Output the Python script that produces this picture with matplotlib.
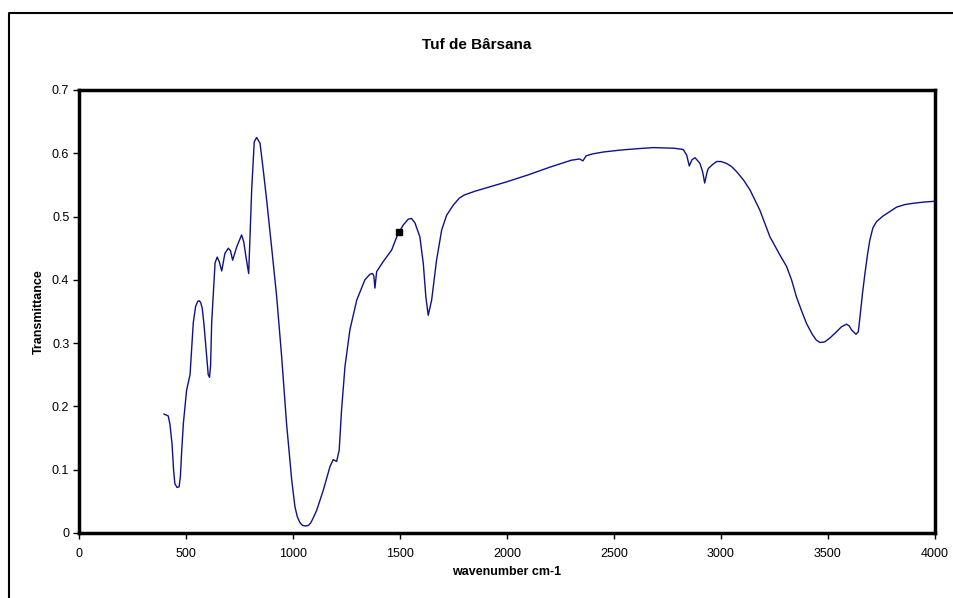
import matplotlib.pyplot as plt
from matplotlib.lines import Line2D

plt.rcParams['font.family'] = ['Liberation Sans', 'DejaVu Sans']

# spectrum
wavenumber = [397, 417, 425, 435, 442, 448, 458, 468, 474, 480, 488, 503, 519, 534, 545,
              555, 562, 569, 576, 584, 594, 604, 610, 615, 620, 636, 646, 656, 667, 682,
              698, 708, 718, 737, 760, 770, 780, 793, 807, 819, 830, 846, 861, 877, 900,
              924, 947, 970, 994, 1009, 1020, 1033, 1045, 1059, 1072, 1083, 1095, 1111,
              1142, 1173, 1188, 1204, 1216, 1227, 1243, 1266, 1298, 1336, 1360, 1372,
              1378, 1383, 1391, 1422, 1461, 1485, 1497, 1516, 1539, 1554, 1570, 1593,
              1609, 1621, 1632, 1648, 1671, 1695, 1718, 1749, 1777, 1800, 1850, 1900,
              2000, 2100, 2200, 2300, 2340, 2355, 2370, 2400, 2450, 2528, 2600, 2684,
              2780, 2824, 2840, 2852, 2865, 2879, 2902, 2915, 2924, 2935, 2941, 2960,
              2980, 3000, 3026, 3050, 3073, 3105, 3136, 3182, 3229, 3276, 3307, 3330,
              3353, 3378, 3400, 3425, 3445, 3463, 3485, 3509, 3540, 3564, 3587, 3600,
              3610, 3631, 3642, 3650, 3662, 3673, 3685, 3696, 3710, 3727, 3758, 3790,
              3821, 3860, 3899, 3950, 3992, 4000]
transmittance = [0.188, 0.185, 0.172, 0.140, 0.100, 0.078, 0.072, 0.073, 0.090, 0.130,
                 0.174, 0.226, 0.250, 0.332, 0.358, 0.366, 0.367, 0.364, 0.355, 0.330,
                 0.290, 0.250, 0.246, 0.265, 0.332, 0.427, 0.436, 0.428, 0.414, 0.442,
                 0.450, 0.446, 0.431, 0.452, 0.471, 0.460, 0.437, 0.410, 0.542, 0.618,
                 0.625, 0.616, 0.574, 0.526, 0.452, 0.373, 0.279, 0.173, 0.084, 0.042,
                 0.026, 0.016, 0.012, 0.011, 0.012, 0.016, 0.024, 0.036, 0.068, 0.105,
                 0.116, 0.113, 0.131, 0.194, 0.263, 0.321, 0.368, 0.400, 0.409, 0.410,
                 0.406, 0.387, 0.413, 0.429, 0.447, 0.468, 0.476, 0.487, 0.496, 0.497,
                 0.490, 0.468, 0.426, 0.373, 0.344, 0.368, 0.431, 0.479, 0.502, 0.518,
                 0.529, 0.534, 0.540, 0.545, 0.555, 0.566, 0.578, 0.589, 0.591, 0.588,
                 0.596, 0.599, 0.602, 0.605, 0.607, 0.609, 0.608, 0.606, 0.597, 0.580,
                 0.590, 0.593, 0.584, 0.570, 0.553, 0.570, 0.576, 0.582, 0.587, 0.587,
                 0.584, 0.579, 0.571, 0.558, 0.542, 0.510, 0.468, 0.439, 0.421, 0.400,
                 0.373, 0.350, 0.331, 0.315, 0.305, 0.301, 0.302, 0.308, 0.318, 0.326,
                 0.330, 0.327, 0.321, 0.314, 0.318, 0.342, 0.380, 0.410, 0.440, 0.463,
                 0.482, 0.492, 0.501, 0.508, 0.515, 0.519, 0.521, 0.523, 0.524, 0.524]

marker_x = [1497]
marker_y = [0.476]

xticks = [0, 500, 1000, 1500, 2000, 2500, 3000, 3500, 4000]
yticks = [0, 0.1, 0.2, 0.3, 0.4, 0.5, 0.6, 0.7]
ytick_labels = ['0', '0.1', '0.2', '0.3', '0.4', '0.5', '0.6', '0.7']

fig = plt.figure(figsize=(9.54, 5.98), dpi=100)
ax = fig.add_axes([0.0828, 0.1087, 0.8972, 0.7408])

ax.plot(wavenumber, transmittance, color='#10108a', linewidth=1.0)
ax.plot(marker_x, marker_y, 's', color='black', markersize=5)

ax.set_xlim(0, 4000)
ax.set_ylim(0, 0.7)
ax.set_xticks(xticks)
ax.set_yticks(yticks)
ax.set_yticklabels(ytick_labels)
ax.tick_params(direction='out', length=4, width=1, labelsize=9, pad=3)
ax.tick_params(axis='x', pad=7)
for s in ax.spines.values():
    s.set_linewidth(2.5)

ax.set_xlabel('wavenumber cm-1', fontsize=9, fontweight='bold', labelpad=4)
ax.set_ylabel('Transmittance', fontsize=9, fontweight='bold', labelpad=5)
fig.text(0.5, 1 - 45 / 598, 'Tuf de Bârsana', ha='center', va='center',
         fontsize=11, fontweight='bold')

# chart area border (left and top only visible)
fig.add_artist(Line2D([9 / 954, 9 / 954, 1.0], [0.0, 1 - 13 / 598, 1 - 13 / 598],
                      color='black', linewidth=1.5, transform=fig.transFigure))

fig.savefig('out.png', dpi=100)
